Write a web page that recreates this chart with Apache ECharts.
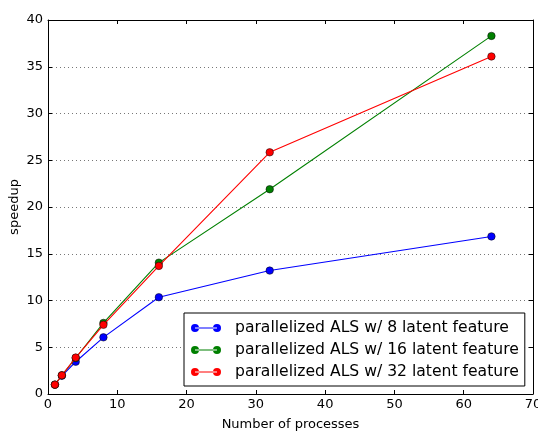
<!DOCTYPE html>
<html>
<head>
<meta charset="utf-8">
<script src="https://cdn.jsdelivr.net/npm/echarts@6/dist/echarts.min.js"></script>
<style>
  html, body { margin: 0; padding: 0; background: #fff; }
  #chart { width: 538px; height: 431px; }
</style>
</head>
<body>
<div id="chart"></div>
<script>
// Process counts and measured speedups
const processes = [1, 2, 4, 8, 16, 32, 64];
const speedup8 = [1.0, 1.95, 3.45, 6.06, 10.35, 13.2, 16.85];
const speedup16 = [1.0, 2.0, 3.85, 7.6, 14.05, 21.9, 38.3];
const speedup32 = [1.0, 2.0, 3.9, 7.4, 13.7, 25.85, 36.1];
const seriesNames = [
  'parallelized ALS w/ 8 latent feature',
  'parallelized ALS w/ 16 latent feature',
  'parallelized ALS w/ 32 latent feature'
];
const seriesColors = ['#0000ff', '#008000', '#ff0000'];
const xTicks = [0, 10, 20, 30, 40, 50, 60, 70];
const yTicks = [0, 5, 10, 15, 20, 25, 30, 35, 40];
const xTitle = 'Number of processes';
const yTitle = 'speedup';

const FONT = 'DejaVu Sans';
const chart = echarts.init(document.getElementById('chart'));

function pairs(ys) { return processes.map((x, i) => [x, ys[i]]); }

// Line with a dot at each end, used as the legend swatch (30 x 8 units)
const legendIcon = 'path://M0,4a4,4 0 1,0 8,0a4,4 0 1,0 -8,0z M22,4a4,4 0 1,0 8,0a4,4 0 1,0 -8,0z M4,3.4h22v1.2h-22z';

const frameAxisLine = { show: true, onZero: false, lineStyle: { color: '#000', width: 1 } };
const inTicks = { show: true, inside: true, length: 4, lineStyle: { color: '#000' } };

chart.setOption({
  animation: false,
  grid: { left: 48, right: 5, top: 20, bottom: 37, containLabel: false, outerBoundsMode: 'none' },
  xAxis: [
    {
      type: 'value', min: xTicks[0], max: xTicks[xTicks.length - 1], interval: 10,
      name: xTitle, nameLocation: 'middle', nameGap: 24,
      nameTextStyle: { fontFamily: FONT, fontSize: 13, color: '#000' },
      axisLine: frameAxisLine, axisTick: inTicks,
      axisLabel: { fontFamily: FONT, fontSize: 13, color: '#000', margin: 4 },
      splitLine: { show: false }
    },
    {
      type: 'value', position: 'top', min: 0, max: 70, interval: 10,
      axisLine: frameAxisLine, axisTick: inTicks,
      axisLabel: { show: false }, splitLine: { show: false }
    }
  ],
  yAxis: [
    {
      type: 'value', min: yTicks[0], max: yTicks[yTicks.length - 1], interval: 5,
      axisLine: frameAxisLine, axisTick: inTicks,
      axisLabel: { fontFamily: FONT, fontSize: 13, color: '#000', margin: 5 },
      splitLine: { show: true, lineStyle: { color: '#777', type: [1, 3], width: 1 } }
    },
    {
      type: 'value', position: 'right', min: 0, max: 40, interval: 5,
      axisLine: frameAxisLine, axisTick: inTicks,
      axisLabel: { show: false }, splitLine: { show: false }
    }
  ],
  // y-axis title, rotated and centred on the plot height
  graphic: [{
    type: 'text',
    x: 15, y: 207,
    rotation: Math.PI / 2,
    style: {
      text: yTitle, fontFamily: FONT, fontSize: 13, fill: '#000',
      align: 'center', verticalAlign: 'middle'
    }
  }],
  legend: {
    orient: 'vertical',
    left: 184, top: 313,
    data: seriesNames.map((n, i) => ({
      name: n, icon: legendIcon,
      itemStyle: { color: seriesColors[i], borderWidth: 0 }
    })),
    itemWidth: 30, itemHeight: 8, itemGap: 4,
    borderColor: '#000', borderWidth: 1,
    padding: [6, 6, 5, 7],
    backgroundColor: '#fff',
    textStyle: { fontFamily: FONT, fontSize: 15.6, color: '#000', height: 18, lineHeight: 18, padding: [0, 0, 0, 9] }
  },
  series: [speedup8, speedup16, speedup32].map((ys, i) => ({
    name: seriesNames[i],
    type: 'line',
    data: pairs(ys),
    color: seriesColors[i],
    symbol: 'circle', symbolSize: 7.5,
    showAllSymbol: true,
    lineStyle: { color: seriesColors[i], width: 1.1 },
    itemStyle: { color: seriesColors[i], borderColor: '#000', borderWidth: 0.5 },
    z: 2 + i
  }))
});
</script>
</body>
</html>
